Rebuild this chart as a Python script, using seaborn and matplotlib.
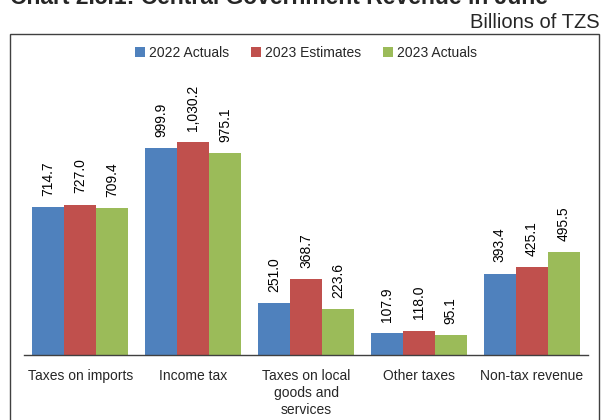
import matplotlib
matplotlib.use("Agg")
import matplotlib.pyplot as plt
import seaborn as sns
import pandas as pd
from matplotlib.patches import Rectangle

categories = ["Taxes on imports", "Income tax", "Taxes on local\ngoods and\nservices",
              "Other taxes", "Non-tax revenue"]
series_names = ["2022 Actuals", "2023 Estimates", "2023 Actuals"]
actuals_2022 = [714.7, 999.9, 251.0, 107.9, 393.4]
estimates_2023 = [727.0, 1030.2, 368.7, 118.0, 425.1]
actuals_2023 = [709.4, 975.1, 223.6, 95.1, 495.5]
colors = ["#4F81BD", "#C0504D", "#9BBB59"]

rows = []
for name, vals in zip(series_names, [actuals_2022, estimates_2023, actuals_2023]):
    for c, v in zip(categories, vals):
        rows.append({"Category": c, "Series": name, "Value": v})
df = pd.DataFrame(rows)

sns.set_theme(style="white")
plt.rcParams['font.family'] = ['Liberation Sans', 'DejaVu Sans']

W, H = 603, 420
fig = plt.figure(figsize=(W / 100, H / 100), dpi=100)
ax = fig.add_axes([24 / W, 65 / H, (588 - 24) / W, (355 - 40) / H])

sns.barplot(data=df, x="Category", y="Value", hue="Series", palette=colors,
            order=categories, hue_order=series_names, width=0.85,
            saturation=1, ax=ax, edgecolor="none", linewidth=0)

ax.set_ylim(0, 1522)
ax.set_xlim(-0.5, len(categories) - 0.5)
for cont in ax.containers:
    ax.bar_label(cont, labels=[f"{v:,.1f}" for v in cont.datavalues],
                 rotation=90, padding=8, fontsize=10, color="#000000")

for s in ["top", "right", "left"]:
    ax.spines[s].set_visible(False)
ax.spines["bottom"].set_color("#404040")
ax.spines["bottom"].set_linewidth(1.0)
ax.set_yticks([])
ax.set_xlabel("")
ax.set_ylabel("")
ax.set_xticks(range(len(categories)))
ax.set_xticklabels(categories, fontsize=10, linespacing=1.3)
ax.tick_params(axis="x", which="major", length=0, pad=10)
ax.set_xticks([i - 0.5 for i in range(len(categories) + 1)], minor=True)
ax.tick_params(axis="x", which="minor", length=5, width=1, color="#404040", direction="out")

leg = ax.legend(loc="upper center", bbox_to_anchor=(0.5, 1.0), ncol=3, frameon=False,
                fontsize=10, handlelength=0.7, handleheight=0.7, handletextpad=0.3,
                columnspacing=1.6, borderaxespad=0.0)

# outer chart border
fig.patches.append(Rectangle((10 / W, -0.05), (599 - 10) / W, (H - 34) / H + 0.05,
                             transform=fig.transFigure, fill=False,
                             edgecolor="#404040", linewidth=1.0, clip_on=False))

fig.text(10 / W, 1 + 2 / H, "Chart 2.5.1: Central Government Revenue in June",
         fontsize=16.5, fontweight="bold", ha="left", va="center")
fig.text(600 / W, 1 - 22 / H, "Billions of TZS", fontsize=14.5, ha="right", va="center")

fig.savefig("out.png", dpi=100)
